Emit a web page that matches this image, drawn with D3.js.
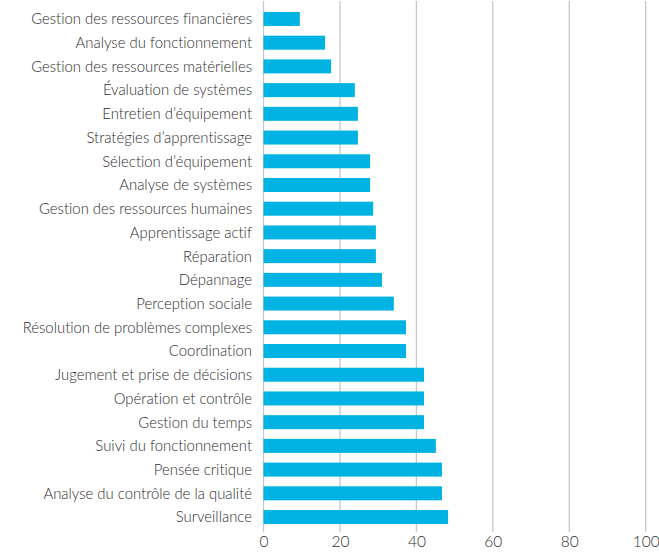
<html>
	<head>
		<script src="https://d3js.org/d3.v7.min.js" charset="utf-8"></script>
		<style>
			body { margin: 0; background: #fff; }
			text { font-family: Lato, "Open Sans", sans-serif; font-weight: 300; fill: #2e2e2e; font-variant-ligatures: none; }
		</style>
	</head>
	<body>
		<div id="chart"></div>
		<script>
			//Data
			var categories = [
				"Gestion des ressources financières",
				"Analyse du fonctionnement",
				"Gestion des ressources matérielles",
				"Évaluation de systèmes",
				"Entretien d’équipement",
				"Stratégies d’apprentissage",
				"Sélection d’équipement",
				"Analyse de systèmes",
				"Gestion des ressources humaines",
				"Apprentissage actif",
				"Réparation",
				"Dépannage",
				"Perception sociale",
				"Résolution de problèmes complexes",
				"Coordination",
				"Jugement et prise de décisions",
				"Opération et contrôle",
				"Gestion du temps",
				"Suivi du fonctionnement",
				"Pensée critique",
				"Analyse du contrôle de la qualité",
				"Surveillance"
			];
			var values = [9.5, 16.1, 17.7, 23.9, 24.7, 24.7, 27.9, 27.9, 28.7, 29.4, 29.4,
				31.0, 34.1, 37.3, 37.3, 42.0, 42.0, 42.0, 45.1, 46.7, 46.7, 48.3];
			var ticks = [0, 20, 40, 60, 80, 100];

			//Setup
			var width = 659, height = 553;
			var svg = d3.select("#chart").append("svg")
				.attr("width", width)
				.attr("height", height);

			var x = d3.scaleLinear().domain([0, 100]).range([263.5, 645.7]);
			var y = d3.scaleBand().domain(categories).range([7.1, 528.9])
				.paddingInner(0.41).paddingOuter(0.205);

			// Grid
			svg.append("g").selectAll("line")
				.data(ticks)
				.enter().append("line")
				.attr("x1", function(d) { return x(d); })
				.attr("x2", function(d) { return x(d); })
				.attr("y1", 1)
				.attr("y2", 532)
				.attr("stroke", "#c6c7cb")
				.attr("stroke-width", 1.3);

			// Bars
			svg.append("g").selectAll("rect")
				.data(values)
				.enter().append("rect")
				.attr("x", x(0))
				.attr("y", function(d, i) { return y(categories[i]); })
				.attr("width", function(d) { return x(d) - x(0); })
				.attr("height", y.bandwidth())
				.attr("fill", "#00b3e3");

			// Category labels
			svg.append("g").selectAll("text")
				.data(categories)
				.enter().append("text")
				.attr("x", 252)
				.attr("y", function(d) { return y(d) + y.bandwidth() / 2; })
				.attr("dy", "0.36em")
				.attr("text-anchor", "end")
				.attr("font-size", "14.9px")
				.text(function(d) { return d; });

			// X axis
			var xAxis = d3.axisBottom(x).tickValues(ticks).tickSize(0).tickPadding(0);
			var gx = svg.append("g")
				.attr("transform", "translate(0,535)")
				.call(xAxis);
			gx.select(".domain").remove();
			gx.selectAll("text")
				.attr("font-size", "15.5px")
				.attr("font-family", null)
				.attr("fill", null)
				.attr("dy", "0.75em");
		</script>
	</body>
</html>
